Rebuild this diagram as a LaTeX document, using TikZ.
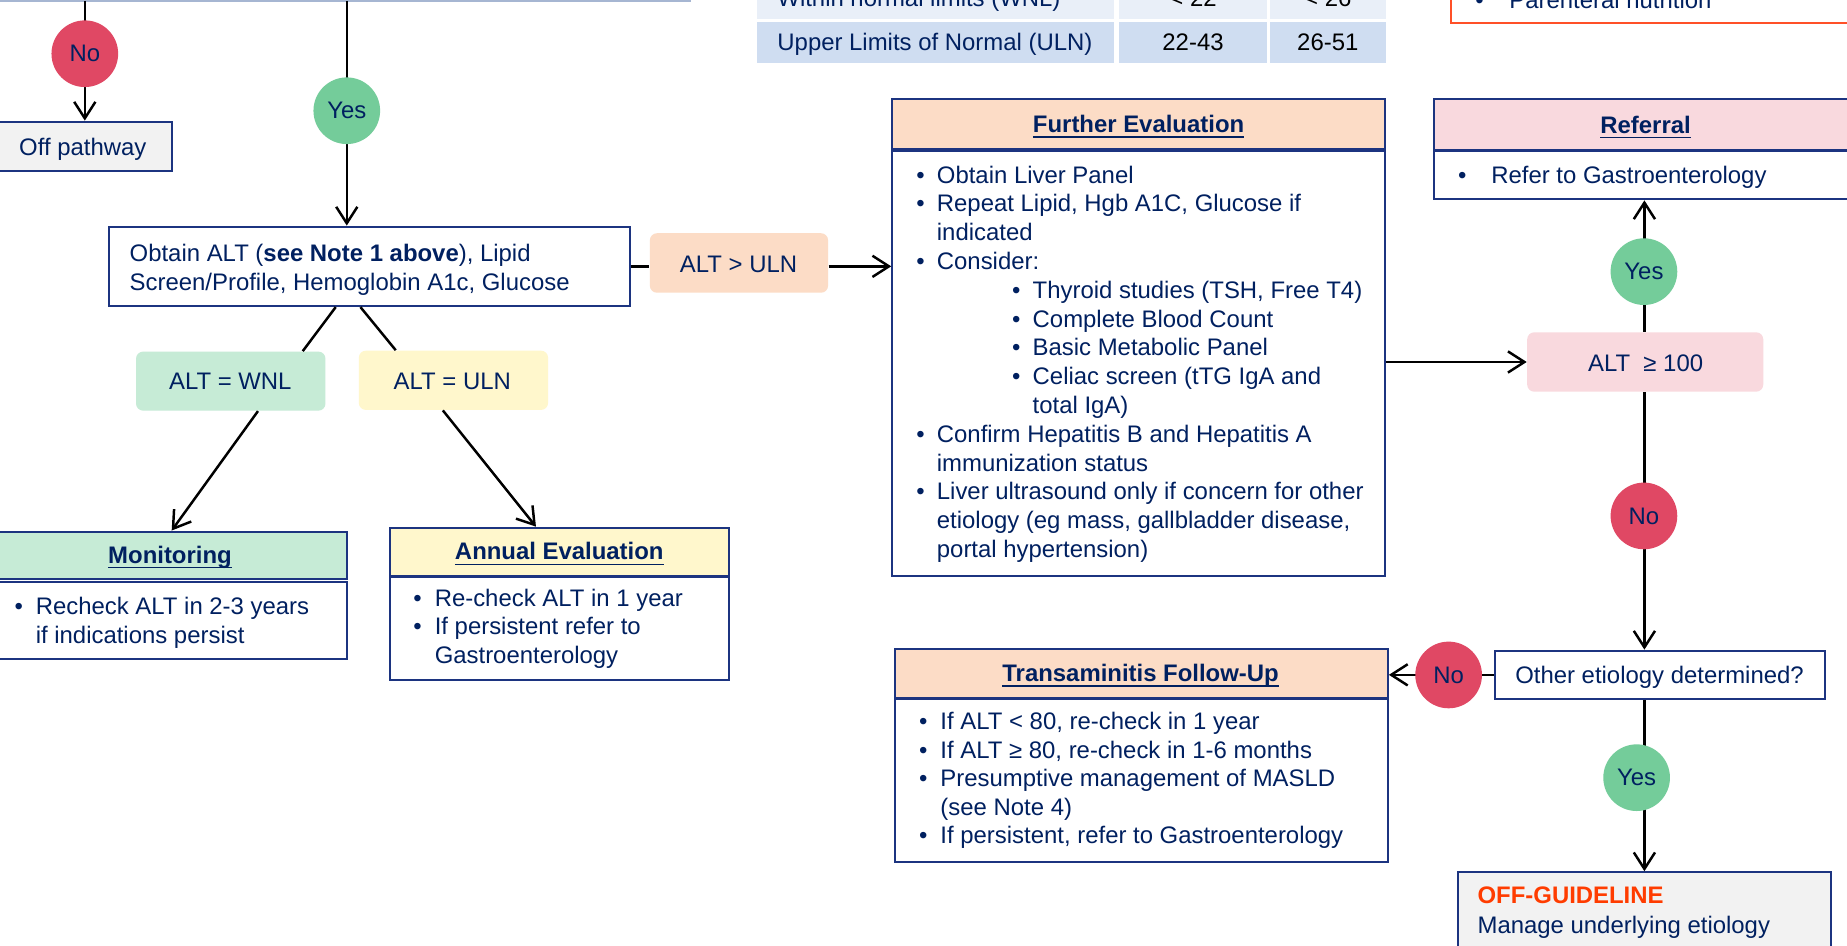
\documentclass[tikz,border=0pt]{standalone}
\usepackage{fontspec}
\setmainfont{Liberation Sans}
\usetikzlibrary{fit,arrows.meta}

\definecolor{txtnavy}{RGB}{0,32,96}
\definecolor{bord}{RGB}{28,52,128}
\definecolor{peach}{RGB}{252,220,198}
\definecolor{lgreen}{RGB}{198,235,214}
\definecolor{lyellow}{RGB}{255,247,204}
\definecolor{lpink}{RGB}{249,217,222}
\definecolor{noRed}{RGB}{224,72,100}
\definecolor{yesGreen}{RGB}{116,204,154}
\definecolor{lgray}{RGB}{242,242,242}
\definecolor{tabA}{RGB}{233,239,248}
\definecolor{tabB}{RGB}{207,221,241}
\definecolor{topline}{RGB}{166,182,210}
\definecolor{offred}{RGB}{255,60,0}
\definecolor{redbox}{RGB}{255,80,40}

\newcommand\fs{\fontsize{10.15pt}{12.22pt}\selectfont}
\newcommand\ttl[1]{\setbox0\hbox{\bfseries #1}\rlap{\rule[-2.2pt]{\wd0}{0.7pt}}\box0}
\newcommand\bl[3]{\hbox{\kern#1\relax\hbox to #2{•\hss}#3}}
\newcommand\cl[2]{\hbox{\kern#1\relax #2}}

\begin{document}
\begin{tikzpicture}[x=0.5pt,y=-0.5pt,
  box/.style={inner sep=0pt, draw=bord, line width=0.9pt},
  shade/.style={inner sep=0pt, rounded corners=3pt},
  cell/.style={inner sep=0pt},
  txt/.style={inner sep=0pt, anchor=base west, text=txtnavy, font=\fs},
  ctxt/.style={inner sep=0pt, anchor=base, text=txtnavy, font=\fs},
  circ/.style={circle, inner sep=0pt, minimum size=28.3pt, text=txtnavy, font=\fs},
  nocirc/.style={circ, fill=noRed},
  yescirc/.style={circ, fill=yesGreen},
  conn/.style={line width=1.05pt, black},
  arr/.style={conn, -{Straight Barb[length=7pt,width=9pt]}},
]
\useasboundingbox (0,0) rectangle (1568,803);
\clip (0,0) rectangle (1568,803);
\fill[white] (0,0) rectangle (1568,803);

% ---- cut-off fragments at the top ----
\draw[topline, line width=0.7pt] (0,0.8) -- (587,0.8);

\node[cell, fill=tabA, fit={(643,-19.3) (946,16.1)}] (t11) {};
\node[cell, fill=tabA, fit={(950,-19.3) (1075.6,16.1)}] (t12) {};
\node[cell, fill=tabA, fit={(1077.8,-19.3) (1176.7,16.1)}] (t13) {};
\node[cell, fill=tabB, fit={(643,18.4) (946,53.8)}] (t21) {};
\node[cell, fill=tabB, fit={(950,18.4) (1075.6,53.8)}] (t22) {};
\node[cell, fill=tabB, fit={(1077.8,18.4) (1176.7,53.8)}] (t23) {};
\node[txt] (t11x) at (659.6,5.3) {Within normal limits (WNL)};
\node[ctxt, text=black] (t12x) at (1012.8,5.3) {< 22};
\node[ctxt, text=black] (t13x) at (1127.2,5.3) {< 26};
\node[txt] (t21x) at (659.6,43) {Upper Limits of Normal (ULN)};
\node[ctxt, text=black] (t22x) at (1012.8,43) {22-43};
\node[ctxt, text=black] (t23x) at (1127.2,43) {26-51};

\node[inner sep=0pt, draw=redbox, line width=0.75pt, fit={(1232,-40) (1620,19.8)}] (nutr) {};
\node[txt] (nutrx) at (1252,7) {\hbox to 14.5pt{•\hss}Parenteral nutrition};

% ---- boxes ----
\node[box, fill=lgray, fit={(-3,103.3) (145.8,145.5)}] (offp) {};
\node[txt] (offpx) at (15.9,131.6) {Off pathway};

\node[box, fill=white, fit={(92.6,192.4) (535,259.8)}] (obtain) {};
\node[txt] (obtainx) at (109.7,221.6) {\vtop{\baselineskip=12.3pt
  \hbox{Obtain ALT (\textbf{see Note 1 above}), Lipid}
  \hbox{Screen/Profile, Hemoglobin A1c, Glucose}}};

\node[shade, fill=peach, fit={(551.7,198) (703,248.5)}] (altgt) {};
\node[ctxt] (altgtx) at (627,231.5) {ALT > ULN};
\node[shade, fill=lgreen, fit={(115.5,298.5) (276.3,348.6)}] (wnl) {};
\node[ctxt] (wnlx) at (195.5,331) {ALT = WNL};
\node[shade, fill=lyellow, fit={(304.6,297.7) (465.3,348)}] (ulneq) {};
\node[ctxt] (ulneqx) at (384,330.5) {ALT = ULN};

\node[box, fill=lgreen, fit={(-3,451.3) (294.5,491.8)}] (monH) {};
\node[box, fill=white, fit={(-3,493.8) (294.5,559.7)}] (monB) {};
\node[ctxt] (monT) at (144.3,478.2) {\ttl{Monitoring}};
\node[txt] (monx) at (12,522) {\vtop{\baselineskip=12pt
  \bl{0pt}{9pt}{Recheck ALT in 2-3 years}
  \cl{9pt}{if indications persist}}};

\node[box, fill=lyellow, fit={(331,448) (619,489)}] (annH) {};
\node[box, fill=white, fit={(331,490) (619,577.3)}] (annB) {};
\node[ctxt] (annT) at (474.8,475.4) {\ttl{Annual Evaluation}};
\node[txt] (annx) at (350.6,514.5) {\vtop{\baselineskip=12.12pt
  \bl{0pt}{9.05pt}{Re-check ALT in 1 year}
  \bl{0pt}{9.05pt}{If persistent refer to}
  \cl{9.05pt}{Gastroenterology}}};

\node[box, fill=peach, fit={(757.5,84.3) (1175.8,126.8)}] (feH) {};
\node[box, fill=white, fit={(757.5,127.8) (1175.8,489)}] (feB) {};
\node[ctxt] (feT) at (966.6,112.6) {\ttl{Further Evaluation}};
\node[txt] (fex) at (777.6,155.5) {\vtop{\baselineskip=12.22pt
  \bl{0pt}{8.7pt}{Obtain Liver Panel}
  \bl{0pt}{8.7pt}{Repeat Lipid, Hgb A1C, Glucose if}
  \cl{8.7pt}{indicated}
  \bl{0pt}{8.7pt}{Consider:}
  \bl{40.6pt}{8.75pt}{Thyroid studies (TSH, Free T4)}
  \bl{40.6pt}{8.75pt}{Complete Blood Count}
  \bl{40.6pt}{8.75pt}{Basic Metabolic Panel}
  \bl{40.6pt}{8.75pt}{Celiac screen (tTG IgA and}
  \cl{49.35pt}{total IgA)}
  \bl{0pt}{8.7pt}{Confirm Hepatitis B and Hepatitis A}
  \cl{8.7pt}{immunization status}
  \bl{0pt}{8.7pt}{Liver ultrasound only if concern for other}
  \cl{8.7pt}{etiology (eg mass, gallbladder disease,}
  \cl{8.7pt}{portal hypertension)}}};

\node[box, fill=lpink, fit={(1217.4,84.3) (1620,127.3)}] (refH) {};
\node[box, fill=white, fit={(1217.4,128.3) (1620,169.2)}] (refB) {};
\node[ctxt] (refT) at (1397,113) {\ttl{Referral}};
\node[txt] (refx) at (1237.4,155.6) {\hbox to 14.15pt{•\hss}Refer to Gastroenterology};

\node[shade, fill=lpink, fit={(1296.5,282.1) (1496.9,332.5)}] (alt100) {};
\node[ctxt] (alt100x) at (1397,315.5) {ALT\ \ ≥ 100};

\node[box, fill=white, fit={(1269.2,552.4) (1549.3,593.4)}] (other) {};
\node[txt] (otherx) at (1286,580) {Other etiology determined?};

\node[box, fill=peach, fit={(759.8,551.2) (1178.2,592.3)}] (trH) {};
\node[box, fill=white, fit={(759.8,593.3) (1178.2,732)}] (trB) {};
\node[ctxt] (trT) at (968.3,578.7) {\ttl{Transaminitis Follow-Up}};
\node[txt] (trx) at (779.8,619.7) {\vtop{\baselineskip=12.1pt
  \bl{0pt}{9.1pt}{If ALT < 80, re-check in 1 year}
  \bl{0pt}{9.1pt}{If ALT ≥ 80, re-check in 1-6 months}
  \bl{0pt}{9.1pt}{Presumptive management of MASLD}
  \cl{9.1pt}{(see Note 4)}
  \bl{0pt}{9.1pt}{If persistent, refer to Gastroenterology}}};

\node[box, fill=lgray, fit={(1237.4,740.5) (1554.4,840)}] (offg) {};
\node[txt, text=offred, font=\fs\bfseries] (offgx1) at (1254,767.4) {OFF-GUIDELINE};
\node[txt] (offgx2) at (1254,792.3) {Manage underlying etiology};

% ---- connectors ----
\coordinate (top1) at (72,0.8);
\coordinate (top2) at (294.4,0.8);
\coordinate (colR) at (1396,0);

\draw[arr] (top1) -- (top1 |- offp.north);
\draw[arr] (top2) -- (top2 |- obtain.north);
\draw[conn] (obtain.east) -- (obtain.east -| altgt.west);
\draw[arr] (altgt.east |- obtain.east) -- (obtain.east -| feB.west);
\draw[conn] ([xshift=-14.4pt]obtain.south) -- ([xshift=30.55pt]wnl.north);
\draw[conn] ([xshift=-3.9pt]obtain.south) -- ([xshift=-24.5pt]ulneq.north);
\draw[arr] ([xshift=11.55pt]wnl.south) -- (monH.north);
\draw[arr] ([xshift=-4.5pt]ulneq.south) -- ([xshift=-10pt]annH.north);
\draw[arr] (alt100.west -| feB.east) -- (alt100.west);
\draw[arr] (colR |- alt100.north) -- (colR |- refB.south);
\draw[arr] (colR |- alt100.south) -- (colR |- other.north);
\draw[arr] (other.west) -- (other.west -| trH.east);
\draw[arr] (colR |- other.south) -- (colR |- offg.north);

% ---- decision circles ----
\node[nocirc] (no1) at (72,45.6) {No};
\node[yescirc] (yes1) at (294.4,94) {Yes};
\node[yescirc] (yes2) at (1395.6,230.6) {Yes};
\node[nocirc] (no2) at (1395.6,438) {No};
\node[nocirc] (no3) at (1229.8,573) {No};
\node[yescirc] (yes3) at (1389.4,660.2) {Yes};
\end{tikzpicture}
\end{document}
